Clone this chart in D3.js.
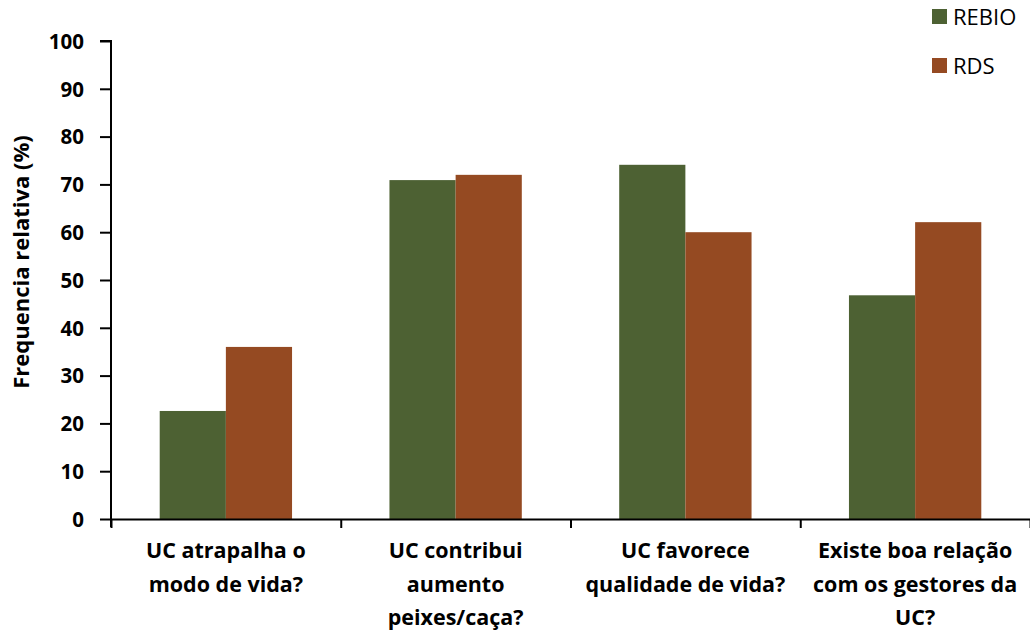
<!DOCTYPE html>
<html>
<head>
<meta charset="utf-8">
<script src="https://cdn.jsdelivr.net/npm/d3@7"></script>
<style>
  html, body { margin: 0; padding: 0; background: #fff; }
  svg { display: block; }
  text { font-family: "Open Sans", "Liberation Sans", sans-serif; }
</style>
</head>
<body>
<svg id="chart" width="1030" height="631"></svg>
<script>
// Questions asked in each protected area (UC)
const categories = [
  ["UC atrapalha o", "modo de vida?"],
  ["UC contribui", "aumento", "peixes/caça?"],
  ["UC favorece", "qualidade de vida?"],
  ["Existe boa relação", "com os gestores da", "UC?"]
];
const seriesNames = ["REBIO", "RDS"];
const rebioValues = [22.6, 70.9, 74.1, 46.8];
const rdsValues = [36.0, 72.0, 60.0, 62.1];
const yTicks = [0, 10, 20, 30, 40, 50, 60, 70, 80, 90, 100];
const colors = ["#4d6133", "#954a22"];

const svg = d3.select("#chart");
const plotLeft = 111, plotRight = 1030, plotTop = 41, plotBottom = 519;

const x0 = d3.scaleBand().domain(d3.range(categories.length)).range([plotLeft, plotRight]).padding(0);
const x1 = d3.scaleBand().domain(seriesNames)
  .range([x0.bandwidth() * 0.212, x0.bandwidth() * 0.788]).padding(0);
const y = d3.scaleLinear().domain([0, 100]).range([plotBottom, plotTop]);
const color = d3.scaleOrdinal().domain(seriesNames).range(colors);

const rows = categories.map((c, i) => ({ i, values: [rebioValues[i], rdsValues[i]] }));

// Bars
svg.append("g").selectAll("g").data(rows).join("g")
  .attr("transform", d => `translate(${x0(d.i)},0)`)
  .selectAll("rect").data(d => d.values.map((v, k) => ({ key: seriesNames[k], v })))
  .join("rect")
  .attr("x", d => x1(d.key))
  .attr("width", x1.bandwidth())
  .attr("y", d => y(d.v))
  .attr("height", d => y(0) - y(d.v))
  .attr("fill", d => color(d.key));

// Y axis
const yAxis = svg.append("g").attr("transform", `translate(${plotLeft},0)`)
  .call(d3.axisLeft(y).tickValues(yTicks).tickSize(11).tickPadding(16));
yAxis.select(".domain").attr("stroke", "#000").attr("stroke-width", 2)
  .attr("d", `M-11,${plotTop}H0V${plotBottom + 8}`);
yAxis.selectAll(".tick line").attr("stroke", "#000").attr("stroke-width", 2);
yAxis.selectAll(".tick text")
  .attr("fill", "#000").style("font-size", "20.5px").style("font-weight", "bold")
  .attr("dy", "0.36em");

// X axis: tick marks at category boundaries
const xb = d3.scaleLinear().domain([0, categories.length]).range([plotLeft, plotRight]);
const xAxis = svg.append("g").attr("transform", `translate(0,${plotBottom})`)
  .call(d3.axisBottom(xb).tickValues(d3.range(categories.length + 1)).tickFormat("").tickSize(9).tickSizeOuter(0));
xAxis.select(".domain").attr("stroke", "#000").attr("stroke-width", 2);
xAxis.selectAll(".tick line").attr("stroke", "#000").attr("stroke-width", 2);

// Category labels
const lab = svg.append("g").selectAll("text").data(categories).join("text")
  .attr("x", (d, i) => x0(i) + x0.bandwidth() / 2)
  .attr("y", 558)
  .attr("text-anchor", "middle")
  .style("font-size", "21.5px").style("font-weight", "bold").attr("fill", "#000");
lab.selectAll("tspan").data(d => d).join("tspan")
  .attr("x", function () { return this.parentNode.getAttribute("x"); })
  .attr("dy", (d, k) => k === 0 ? 0 : 33.5)
  .text(d => d);

// Y axis title
svg.append("text")
  .attr("transform", `translate(29,262) rotate(-90)`)
  .attr("text-anchor", "middle")
  .style("font-size", "22px").style("font-weight", "bold").attr("fill", "#000")
  .text("Frequencia relativa (%)");

// Legend
const legend = svg.append("g").selectAll("g").data(seriesNames).join("g")
  .attr("transform", (d, k) => `translate(932,${9 + k * 49})`);
legend.append("rect").attr("width", 15).attr("height", 15).attr("fill", d => color(d));
legend.append("text").attr("x", 21).attr("y", 8).attr("dy", "0.36em")
  .style("font-size", "22px").attr("fill", "#000").text(d => d);
</script>
</body>
</html>
